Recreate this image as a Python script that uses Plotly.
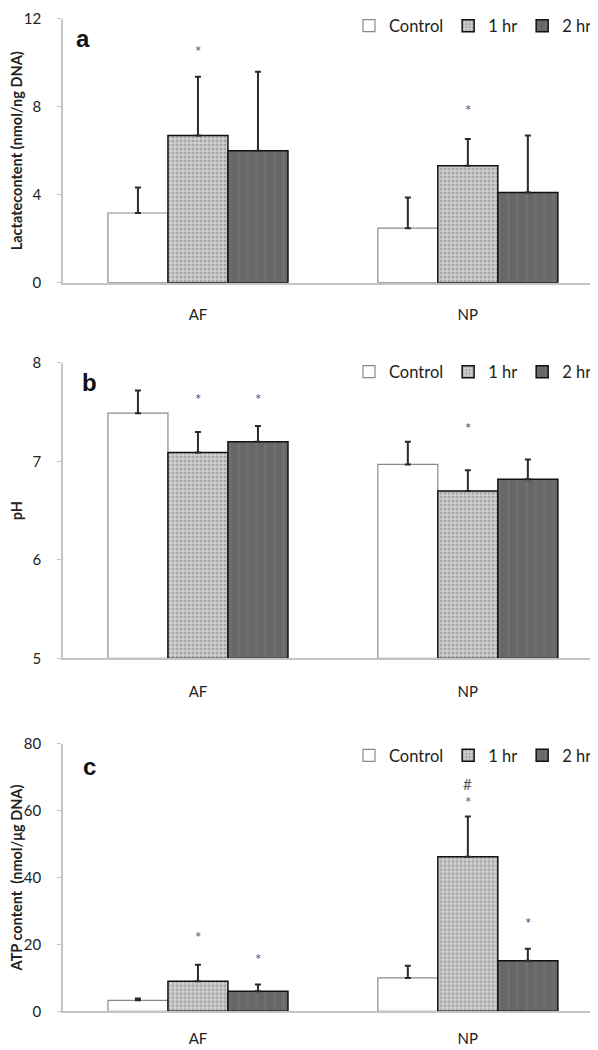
import plotly.graph_objects as go

categories = ["AF", "NP"]
series_names = ["Control", "1 hr", "2 hr"]

# Panel a: lactate content (nmol/ng DNA)
lac_ctrl = [3.17, 2.48]
lac_1hr = [6.70, 5.32]
lac_2hr = [6.00, 4.10]
lac_ctrl_sd = [1.16, 1.40]
lac_1hr_sd = [2.67, 1.22]
lac_2hr_sd = [3.60, 2.60]

# Panel b: pH
ph_ctrl = [7.49, 6.97]
ph_1hr = [7.09, 6.70]
ph_2hr = [7.20, 6.82]
ph_ctrl_sd = [0.23, 0.23]
ph_1hr_sd = [0.21, 0.21]
ph_2hr_sd = [0.16, 0.20]

# Panel c: ATP content (nmol/ug DNA)
atp_ctrl = [3.3, 10.0]
atp_1hr = [9.0, 46.2]
atp_2hr = [6.0, 15.1]
atp_ctrl_sd = [0.5, 3.6]
atp_1hr_sd = [4.9, 12.0]
atp_2hr_sd = [2.0, 3.6]

# Significance marks: (category index, series index, y position, text)
marks_a = [(0, 1, 10.55, "*"), (1, 1, 7.85, "*")]
marks_b = [(0, 1, 7.63, "*"), (0, 2, 7.63, "*"), (1, 1, 7.34, "*")]
marks_c = [(0, 1, 22.3, "*"), (0, 2, 15.5, "*"), (1, 1, 62.5, "*"),
           (1, 1, 68.0, "#"), (1, 2, 26.5, "*")]

FONT = "Lato"
OFF = 8            # browser body margin
W, H = 598 - OFF, 1050 - OFF


def px(xp):
    return (xp - OFF) / W


def py(yp):
    return 1 - (yp - OFF) / H


styles = [
    dict(color="white", line=dict(color="#8a8a8a", width=1.2)),
    dict(color="#c8c8c8", line=dict(color="#111111", width=1.5),
         pattern=dict(shape=".", bgcolor="#d2d2d2", fgcolor="#777777", size=4, solidity=0.45)),
    dict(color="#6a6a6a", line=dict(color="#111111", width=1.5),
         pattern=dict(shape="|", bgcolor="#676767", fgcolor="#777777", size=9, solidity=0.3)),
]

panels = [
    dict(means=[lac_ctrl, lac_1hr, lac_2hr], sds=[lac_ctrl_sd, lac_1hr_sd, lac_2hr_sd],
         marks=marks_a, rng=[0, 12], tickvals=[0, 4, 8, 12],
         title="Lactatecontent (nmol/ng DNA)", letter="a", top=10, bottom=276,
         legend_y=17, letter_pos=(83, 30), xstand=18),
    dict(means=[ph_ctrl, ph_1hr, ph_2hr], sds=[ph_ctrl_sd, ph_1hr_sd, ph_2hr_sd],
         marks=marks_b, rng=[5, 8], tickvals=[5, 6, 7, 8],
         title="pH", letter="b", top=357, bottom=655,
         legend_y=366, letter_pos=(89, 377), xstand=19),
    dict(means=[atp_ctrl, atp_1hr, atp_2hr], sds=[atp_ctrl_sd, atp_1hr_sd, atp_2hr_sd],
         marks=marks_c, rng=[0, 80], tickvals=[0, 20, 40, 60, 80],
         title="ATP content  (nmol/\u03bcg DNA)", letter="c", top=741, bottom=1011,
         legend_y=753, letter_pos=(89, 764), xstand=13),
]

fig = go.Figure()
x_left, x_right = 63, 592
offsets = [-0.222, 0.0, 0.222]
annotations = []
layout = {}

for p_i, p in enumerate(panels):
    suffix = "" if p_i == 0 else str(p_i + 1)
    xa, ya = "x" + suffix, "y" + suffix
    leg = "legend" + suffix
    lo = p["rng"][0]
    for s_i, name in enumerate(series_names):
        st = styles[s_i]
        marker = dict(color=st["color"], line=st["line"])
        if "pattern" in st:
            marker["pattern"] = st["pattern"]
        fig.add_trace(go.Bar(
            x=[0, 1], y=[v - lo for v in p["means"][s_i]], base=lo if lo else None,
            name=name, marker=marker,
            xaxis=xa, yaxis=ya, legend=leg, offsetgroup=str(s_i),
            error_y=dict(type="data", symmetric=False, array=p["sds"][s_i],
                         arrayminus=[0] * len(categories), color="#2a2a2a",
                         thickness=2, width=3),
        ))
    layout["xaxis" + suffix] = dict(
        domain=[px(x_left), px(x_right)], anchor=ya, range=[-0.5, 1.46],
        tickvals=[0, 1], ticktext=categories, showline=True, linecolor="#c4c4c4",
        linewidth=1.5, ticks="", ticklabelstandoff=p["xstand"], showgrid=False,
        zeroline=False, automargin=False,
        tickfont=dict(family=FONT, size=15, color="#222222"))
    layout["yaxis" + suffix] = dict(
        domain=[py(p["bottom"]), py(p["top"])], anchor=xa, range=p["rng"],
        tickvals=p["tickvals"], showline=True, linecolor="#c4c4c4", linewidth=1.5,
        ticks="outside", ticklen=4, tickcolor="#c4c4c4", showgrid=False,
        zeroline=False, ticklabelstandoff=13, automargin=False,
        tickfont=dict(family=FONT, size=15, color="#222222"),
        title=dict(text="<b>" + p["title"] + "</b>", standoff=6,
                   font=dict(family=FONT, size=14.5, color="#222222")))
    layout[leg] = dict(
        orientation="h", x=px(597), xanchor="right", y=py(p["legend_y"]),
        yanchor="middle", font=dict(family=FONT, size=16.5, color="#222222"),
        itemwidth=30, bgcolor="rgba(0,0,0,0)", tracegroupgap=0)
    for (c_i, s_i, yv, txt) in p["marks"]:
        annotations.append(dict(
            x=c_i + offsets[s_i], y=yv, xref=xa, yref=ya, text=txt, showarrow=False,
            font=dict(family=FONT, size=15, color="#555555"), yanchor="middle"))
    annotations.append(dict(
        x=px(p["letter_pos"][0]), y=py(p["letter_pos"][1]), xref="paper", yref="paper",
        text="<b>" + p["letter"] + "</b>", showarrow=False,
        font=dict(family="Liberation Sans", size=24, color="#111111"),
        xanchor="center", yanchor="middle"))

fig.update_layout(
    width=W, height=H, margin=dict(l=0, r=0, t=0, b=0),
    plot_bgcolor="white", paper_bgcolor="white",
    barmode="group", bargap=0.333, bargroupgap=0,
    annotations=annotations, **layout)

fig.write_html("out.html")
